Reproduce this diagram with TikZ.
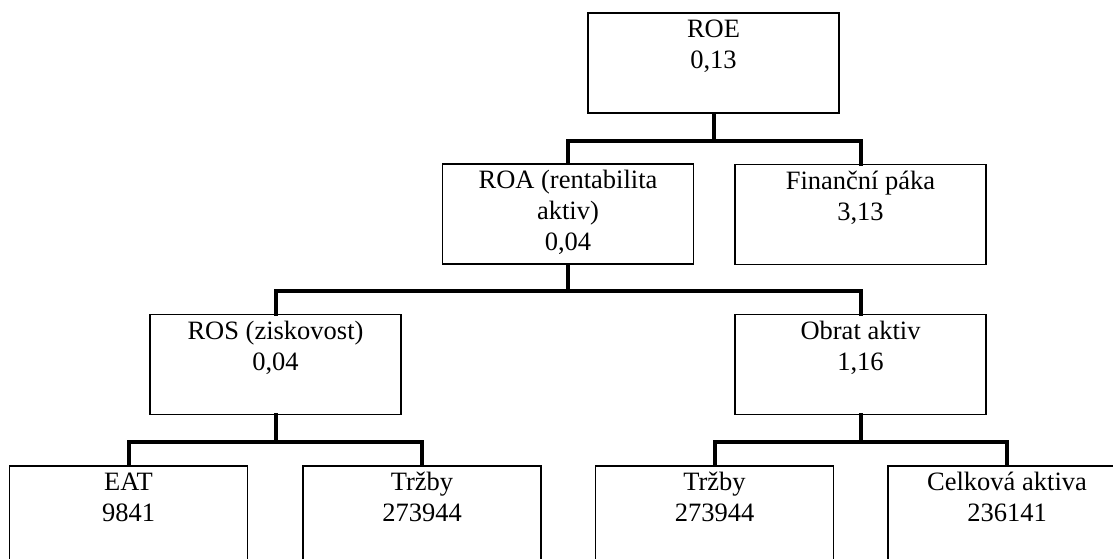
\documentclass[tikz,border=0pt]{standalone}
\usepackage{fontspec}
\setmainfont{Liberation Serif}
\begin{document}
\begin{tikzpicture}[x=1pt,y=1pt,
  box/.style={draw=black, line width=1.2pt, rectangle, inner sep=0pt, fill=white},
  midbox/.style={box, minimum width=251pt, minimum height=100pt},
  lowbox/.style={box, minimum width=238pt, minimum height=100pt},
  txt/.style={anchor=north, inner sep=0pt, align=center, font=\fontsize{26.5}{31}\selectfont},
  conn/.style={line width=4pt, line join=miter, line cap=rect}]
\useasboundingbox (0,0) rectangle (1113,-559);
\clip (0,0) rectangle (1113,-559);
% boxes
\node[midbox] (roe) at (713.5,-63) {};
\node[midbox] (roa) at (568,-214) {};
\node[midbox] (fin) at (860.5,-214.5) {};
\node[midbox] (ros) at (275.5,-364.5) {};
\node[midbox] (obr) at (860.5,-364.5) {};
\node[lowbox] (eat) at (128.5,-516) {};
\node[lowbox] (trz1) at (422,-516) {};
\node[lowbox] (trz2) at (714.5,-516) {};
\node[lowbox] (cel) at (1007,-516) {};
% texts
\node[txt] (roeT) at ([yshift=-3.3pt]roe.north) {\strut ROE\\0,13};
\node[txt] (roaT) at ([yshift=-3.3pt]roa.north) {\strut ROA (rentabilita\\aktiv)\\0,04};
\node[txt] (finT) at ([yshift=-3.3pt]fin.north) {\strut Finanční páka\\3,13};
\node[txt] (rosT) at ([yshift=-3.3pt]ros.north) {\strut ROS (ziskovost)\\0,04};
\node[txt] (obrT) at ([yshift=-3.3pt]obr.north) {\strut Obrat aktiv\\1,16};
\node[txt] (eatT) at ([yshift=-3.3pt]eat.north) {\strut EAT\\9841};
\node[txt] (trz1T) at ([yshift=-3.3pt]trz1.north) {\strut Tržby\\273944};
\node[txt] (trz2T) at ([yshift=-3.3pt]trz2.north) {\strut Tržby\\273944};
\node[txt] (celT) at ([yshift=-3.3pt]cel.north) {\strut Celková aktiva\\236141};
% connectors
\draw[conn] (roe.south) -- ++(0,-27);
\draw[conn] (roa.north) |- ([yshift=-27pt]roe.south) -| (fin.north);
\draw[conn] (roa.south) -- ++(0,-26);
\draw[conn] (ros.north) |- ([yshift=-26pt]roa.south) -| (obr.north);
\draw[conn] (ros.south) -- ++(0,-27);
\draw[conn] (eat.north) |- ([yshift=-27pt]ros.south) -| (trz1.north);
\draw[conn] (obr.south) -- ++(0,-27);
\draw[conn] (trz2.north) |- ([yshift=-27pt]obr.south) -| (cel.north);
\end{tikzpicture}
\end{document}
